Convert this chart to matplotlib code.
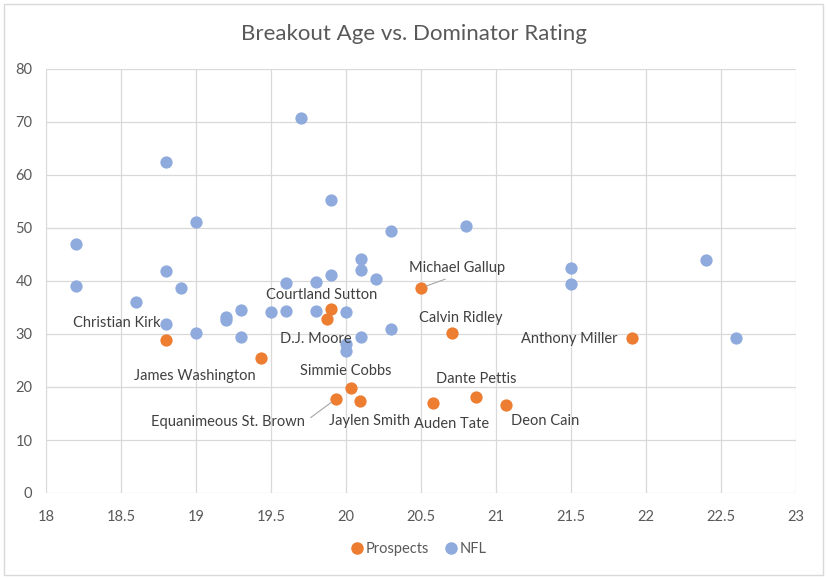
import matplotlib
matplotlib.use("Agg")
import matplotlib.pyplot as plt
from matplotlib.patches import Rectangle
from matplotlib.lines import Line2D

# ---- data ----
nfl_age = [18.2, 18.2, 18.8, 19.0, 19.7, 19.9, 20.3, 18.8, 18.9, 18.6,
           20.1, 20.1, 20.2, 19.9, 19.8, 19.6, 18.8, 19.0, 19.2, 19.2,
           19.3, 19.3, 19.5, 19.6, 19.8, 20.0, 20.0, 20.0, 20.1, 20.3,
           20.8, 21.5, 21.5, 22.4, 22.6]
nfl_dom = [47.0, 39.1, 62.4, 51.1, 70.8, 55.2, 49.5, 41.8, 38.7, 36.0,
           44.2, 42.1, 40.3, 41.1, 39.9, 39.6, 31.8, 30.1, 33.3, 32.6,
           34.5, 29.4, 34.1, 34.3, 34.3, 34.2, 28.1, 26.8, 29.4, 30.9,
           50.4, 42.4, 39.5, 44.0, 29.2]

prospect_names = ["Christian Kirk", "James Washington", "Courtland Sutton", "D.J. Moore",
                  "Simmie Cobbs", "Equanimeous St. Brown", "Jaylen Smith", "Michael Gallup",
                  "Calvin Ridley", "Anthony Miller", "Dante Pettis", "Auden Tate", "Deon Cain"]
prospect_age = [18.8, 19.43, 19.9, 19.87, 20.03, 19.93, 20.09, 20.5, 20.71, 21.91, 20.87, 20.58, 21.07]
prospect_dom = [28.8, 25.5, 34.7, 32.8, 19.9, 17.7, 17.4, 38.7, 30.1, 29.2, 18.2, 16.9, 16.6]

x_ticks = [18, 18.5, 19, 19.5, 20, 20.5, 21, 21.5, 22, 22.5, 23]
x_tick_labels = ["18", "18.5", "19", "19.5", "20", "20.5", "21", "21.5", "22", "22.5", "23"]
y_ticks = [0, 10, 20, 30, 40, 50, 60, 70, 80]

# label offsets in pixels (dx right, dy down) -- layout only
label_offsets_px = [(-49, -17), (-66, 18), (-9.5, -14), (-11, 20), (-5, -17), (-108, 23),
                    (10, 20), (36, -20), (8.5, -15), (-62.6, 1), (0, -18), (19, 21), (39, 16)]
leader_relpos = {"Equanimeous St. Brown": (1.0, 0.5), "Michael Gallup": (0.5, 0.0)}

W, H = 827, 578
fig = plt.figure(figsize=(W / 100, H / 100), dpi=100)
plt.rcParams['font.family'] = ['Lato', 'DejaVu Sans']
TXT = '#595959'
BLUE = '#8FAADC'
ORANGE = '#ED7D31'
GRID = '#D9D9D9'

fig.patches.append(Rectangle((4 / W, 1 - 575 / H), 819 / W, 571 / H, transform=fig.transFigure,
                             fill=False, edgecolor='#D9D9D9', linewidth=1))

l, r, t, b = 46.3, 795.7, 69, 493
ax = fig.add_axes([l / W, 1 - b / H, (r - l) / W, (b - t) / H])
ax.set_xlim(18, 23)
ax.set_ylim(0, 80)
ax.set_xticks(x_ticks)
ax.set_xticklabels(x_tick_labels)
ax.set_yticks(y_ticks)
ax.grid(True, color=GRID, linewidth=0.9)
ax.set_axisbelow(True)
for s in ax.spines.values():
    s.set_visible(False)
ax.tick_params(length=0, colors=TXT, labelsize=10.5)
ax.tick_params(axis='x', pad=12)
ax.tick_params(axis='y', pad=10)

ms = 78
ax.scatter(nfl_age, nfl_dom, s=ms, color=BLUE, zorder=3, linewidths=0)
ax.scatter(prospect_age, prospect_dom, s=ms, color=ORANGE, zorder=4, linewidths=0)

for name, xa, ya, (dx, dy) in zip(prospect_names, prospect_age, prospect_dom, label_offsets_px):
    kw = {}
    if name in leader_relpos:
        kw['arrowprops'] = dict(arrowstyle='-', color='#A6A6A6', lw=0.8, shrinkA=3, shrinkB=4,
                                relpos=leader_relpos[name])
    ax.annotate(name, (xa, ya), xytext=(dx * 0.72, -dy * 0.72), textcoords='offset points',
                ha='center', va='center', fontsize=10.5, color='#404040', zorder=5, **kw)

fig.text(414 / W, 1 - 34 / H, "Breakout Age vs. Dominator Rating", ha='center', va='center',
         fontsize=16, color=TXT)

handles = [Line2D([], [], marker='o', linestyle='none', color=ORANGE, markersize=8),
           Line2D([], [], marker='o', linestyle='none', color=BLUE, markersize=8)]
fig.legend(handles, ["Prospects", "NFL"], loc='center', bbox_to_anchor=(418 / W, 1 - 549 / H),
           ncol=2, frameon=False, fontsize=10.5, labelcolor=TXT, handletextpad=0.1,
           columnspacing=1.0, handlelength=1.0)

fig.savefig("out.png", dpi=100)
